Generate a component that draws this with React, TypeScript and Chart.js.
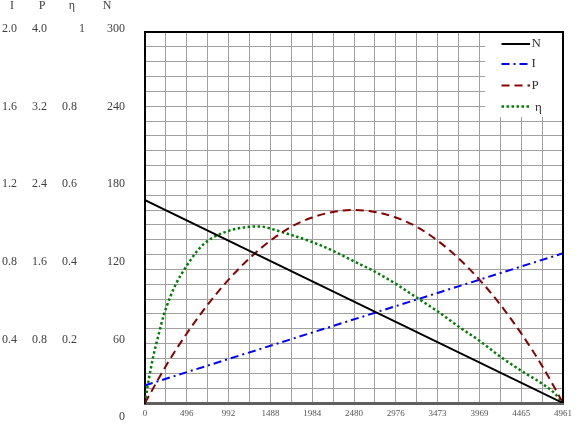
import { useEffect, useRef } from 'react'

import Chart from 'chart.js/auto'

// x axis: 0 .. 4961, 20 grid divisions, labelled every 2nd
const X_MAX = 4961
const xTickLabels = ['0', '496', '992', '1488', '1984', '2480', '2976', '3473', '3969', '4465', '4961']

// left-hand label columns
const iLabels = ['2.0', '1.6', '1.2', '0.8', '0.4']
const pLabels = ['4.0', '3.2', '2.4', '1.6', '0.8']
const etaLabels = ['1', '0.8', '0.6', '0.4', '0.2']
const nLabels = ['300', '240', '180', '120', '60', '0']

// N (speed) - straight line
const nX = [0, 4961]
const nValues = [164, 0]

// I (current) - straight line
const iX = [0, 4961]
const iValues = [0.095, 0.807]

// P (output power)
const pX = [0, 248, 496, 744, 992, 1240, 1488, 1736, 1984, 2233, 2480, 2729, 2977, 3225, 3473, 3721, 3969, 4217, 4465, 4713, 4961]
const pValues = [0, 0.4, 0.75, 1.06, 1.33, 1.56, 1.75, 1.9, 2.0, 2.06, 2.08, 2.06, 2.0, 1.9, 1.75, 1.56, 1.33, 1.06, 0.75, 0.4, 0]

// η (efficiency)
const etaX = [0, 25, 50, 99, 149, 223, 298, 372, 496, 620, 744, 992, 1240, 1364, 1488, 1736, 1984, 2233, 2480, 2729, 2977, 3225, 3473, 3721, 3969, 4217, 4465, 4713, 4862, 4961]
const etaValues = [0, 0.037, 0.07, 0.127, 0.173, 0.237, 0.285, 0.323, 0.37, 0.41, 0.437, 0.464, 0.475, 0.476, 0.47, 0.453, 0.434, 0.41, 0.382, 0.354, 0.321, 0.284, 0.247, 0.206, 0.168, 0.125, 0.087, 0.052, 0.026, 0]

const SERIF = '"Liberation Serif", "DejaVu Serif", serif'

const toPoints = (xs: number[], ys: number[]) => xs.map((x, i) => ({ x, y: ys[i] }))

const legendItems = [
  { label: 'N', color: '#000000', dash: [] as number[], width: 2 },
  { label: 'I', color: '#0000ff', dash: [8, 4, 2, 4], width: 2 },
  { label: 'P', color: '#8b0000', dash: [8, 5], width: 2 },
  { label: 'η', color: '#008000', dash: [2.5, 2.5], width: 2.5 },
]

const framePlugin = {
  id: 'frame',
  afterDraw(chart: Chart) {
    const { ctx, chartArea } = chart
    const { left, right, top, bottom } = chartArea
    ctx.save()

    // legend box
    const boxL = right - 78
    ctx.fillStyle = '#ffffff'
    ctx.fillRect(boxL, top, right - boxL, 85)
    const rows = [12, 32, 53.5, 74.5]
    legendItems.forEach((item, i) => {
      const y = top + rows[i]
      ctx.strokeStyle = item.color
      ctx.lineWidth = item.width
      ctx.setLineDash(item.dash)
      ctx.lineCap = 'butt'
      ctx.beginPath()
      ctx.moveTo(right - 61.5, y)
      ctx.lineTo(right - 33, y)
      ctx.stroke()
      ctx.setLineDash([])
      ctx.fillStyle = '#333333'
      ctx.font = `13px ${SERIF}`
      ctx.textBaseline = 'middle'
      ctx.textAlign = 'left'
      ctx.fillText(item.label, item.label === 'η' ? right - 28 : right - 31.5, y + (item.label === 'η' ? 1 : 0))
    })

    // top / right border
    ctx.strokeStyle = '#000000'
    ctx.lineWidth = 2
    ctx.beginPath()
    ctx.moveTo(left, top)
    ctx.lineTo(right, top)
    ctx.lineTo(right, bottom)
    ctx.stroke()

    // left label columns
    ctx.fillStyle = '#404040'
    ctx.font = `12px ${SERIF}`
    ctx.textBaseline = 'middle'
    const step = (bottom - top + 17) / 5
    const rowY = (k: number) => top - 3 + k * step
    ctx.textAlign = 'center'
    ctx.fillText('I', 12, 6)
    ctx.fillText('P', 42, 6)
    ctx.fillText('η', 72, 6)
    ctx.fillText('N', 107, 6)
    iLabels.forEach((t, k) => {
      ctx.textAlign = 'left'
      ctx.fillText(t, 2, rowY(k))
    })
    pLabels.forEach((t, k) => {
      ctx.textAlign = 'left'
      ctx.fillText(t, 32, rowY(k))
    })
    etaLabels.forEach((t, k) => {
      ctx.textAlign = k === 0 ? 'right' : 'left'
      ctx.fillText(t, k === 0 ? 85 : 62, rowY(k))
    })
    nLabels.forEach((t, k) => {
      ctx.textAlign = 'right'
      ctx.fillText(t, 125, rowY(k))
    })
    ctx.restore()
  },
}

function MotorChart() {
  const canvasRef = useRef<HTMLCanvasElement | null>(null)
  const chartRef = useRef<Chart | null>(null)

  useEffect(() => {
    if (!canvasRef.current) return

    chartRef.current = new Chart(canvasRef.current, {
      type: 'line',
      data: {
        datasets: [
          {
            label: 'N',
            data: toPoints(nX, nValues),
            yAxisID: 'yN',
            borderColor: '#000000',
            borderWidth: 2,
          },
          {
            label: 'I',
            data: toPoints(iX, iValues),
            yAxisID: 'yI',
            borderColor: '#0000ff',
            borderWidth: 2,
            borderDash: [8, 4, 2, 4],
          },
          {
            label: 'P',
            data: toPoints(pX, pValues),
            yAxisID: 'yP',
            borderColor: '#8b0000',
            borderWidth: 2,
            borderDash: [8, 5],
            cubicInterpolationMode: 'monotone',
          },
          {
            label: 'η',
            data: toPoints(etaX, etaValues),
            yAxisID: 'yEta',
            borderColor: '#008000',
            borderWidth: 2.5,
            borderDash: [2.5, 2.5],
            cubicInterpolationMode: 'monotone',
          },
        ],
      },
      options: {
        animation: false,
        responsive: false,
        layout: { padding: { left: 145, right: 17, top: 32, bottom: 0 } },
        elements: { point: { radius: 0 }, line: { borderCapStyle: 'butt' } },
        plugins: { legend: { display: false }, tooltip: { enabled: false } },
        scales: {
          x: {
            type: 'linear',
            min: 0,
            max: X_MAX,
            afterBuildTicks: (scale) => {
              scale.ticks = Array.from({ length: 21 }, (_, i) => ({ value: (i * X_MAX) / 20 }))
            },
            afterFit: (scale) => {
              scale.height = 28
            },
            grid: { color: '#a0a0a0', lineWidth: 1, drawTicks: false },
            border: { color: '#606060', width: 3 },
            ticks: {
              autoSkip: false,
              maxRotation: 0,
              padding: 5,
              color: '#555555',
              font: { family: SERIF, size: 9 },
              callback: (_v, i) => (i % 2 === 0 ? xTickLabels[i / 2] : ''),
            },
          },
          yN: {
            type: 'linear',
            position: 'left',
            min: 0,
            max: 300,
            afterFit: (scale) => {
              scale.width = 0
            },
            grid: { color: '#a0a0a0', lineWidth: 1, drawTicks: false },
            border: { color: '#000000', width: 2 },
            ticks: { display: false, stepSize: 12 },
          },
          yI: { type: 'linear', display: false, min: 0, max: 2 },
          yP: { type: 'linear', display: false, min: 0, max: 4 },
          yEta: { type: 'linear', display: false, min: 0, max: 1 },
        },
      },
      plugins: [framePlugin],
    })

    return () => {
      if (chartRef.current) {
        chartRef.current.destroy()
        chartRef.current = null
      }
    }
  }, [])

  return <canvas ref={canvasRef} width={580} height={431} />
}

export default function App() {
  return (
    <div style={{ position: 'absolute', left: 0, top: 0, width: 580, height: 431, background: '#fff' }}>
      <MotorChart />
    </div>
  )
}
